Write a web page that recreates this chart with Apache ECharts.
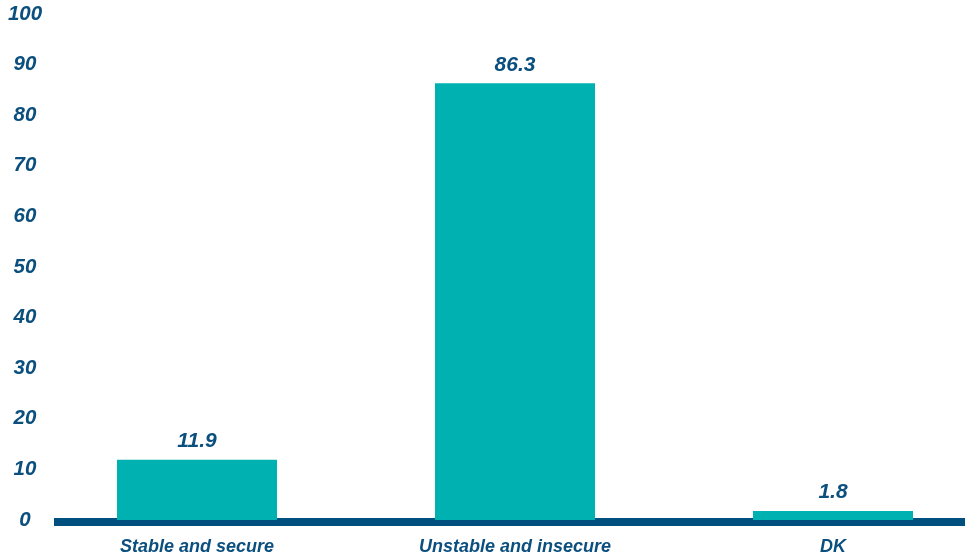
<!DOCTYPE html>
<html>
<head>
<meta charset="utf-8">
<script src="https://cdn.jsdelivr.net/npm/echarts@6/dist/echarts.min.js"></script>
<style>
html,body{margin:0;padding:0;background:#fff;}
#c{width:965px;height:557px;}
</style>
</head>
<body>
<div id="c"></div>
<script>
var categories = ['Stable and secure', 'Unstable and insecure', 'DK'];
var values = [11.9, 86.3, 1.8];
var yTicks = [0, 10, 20, 30, 40, 50, 60, 70, 80, 90, 100];

var chart = echarts.init(document.getElementById('c'));
var textBlue = '#0B4F7E';
var font = 'Liberation Sans, Arial, sans-serif';
var yMin = yTicks[0], yMax = yTicks[yTicks.length - 1];
chart.setOption({
  animation: false,
  grid: [
    {left: 197, right: 132, top: 14, bottom: 37},
    {left: 54, right: 0, top: 14, bottom: 37},
    {left: 54, right: 0, top: 14, bottom: 35}
  ],
  xAxis: [
    {
      type: 'category', data: categories, gridIndex: 0, boundaryGap: false,
      axisLine: {show: false}, axisTick: {show: false}, splitLine: {show: false},
      axisLabel: {color: textBlue, fontFamily: font, fontSize: 18, fontWeight: 'bold', fontStyle: 'italic', margin: 18}
    },
    {type: 'value', gridIndex: 1, show: false, min: 0, max: 1, splitLine: {show: false}},
    {
      type: 'value', gridIndex: 2, min: 0, max: 1,
      axisLine: {show: true, lineStyle: {color: '#00507F', width: 8, cap: 'butt'}},
      axisTick: {show: false}, axisLabel: {show: false}, splitLine: {show: false}
    }
  ],
  yAxis: [
    {type: 'value', gridIndex: 0, show: false, min: yMin, max: yMax, interval: 10, splitLine: {show: false}},
    {
      type: 'value', gridIndex: 1, min: yMin, max: yMax, interval: 10,
      axisLine: {show: false}, axisTick: {show: false}, splitLine: {show: false},
      axisLabel: {color: textBlue, fontFamily: font, fontSize: 20.5, fontWeight: 'bold', fontStyle: 'italic', align: 'center', margin: 29}
    },
    {type: 'value', gridIndex: 2, show: false, min: 0, max: 1, splitLine: {show: false}}
  ],
  series: [{
    type: 'bar', xAxisIndex: 0, yAxisIndex: 0, data: values, barWidth: 160, clip: false,
    itemStyle: {color: '#00B1B1'},
    label: {show: true, position: 'top', distance: 8, color: textBlue, fontFamily: font, fontSize: 21, fontWeight: 'bold', fontStyle: 'italic',
      formatter: function (p) { return p.value.toFixed(1); }}
  }]
});
</script>
</body>
</html>
